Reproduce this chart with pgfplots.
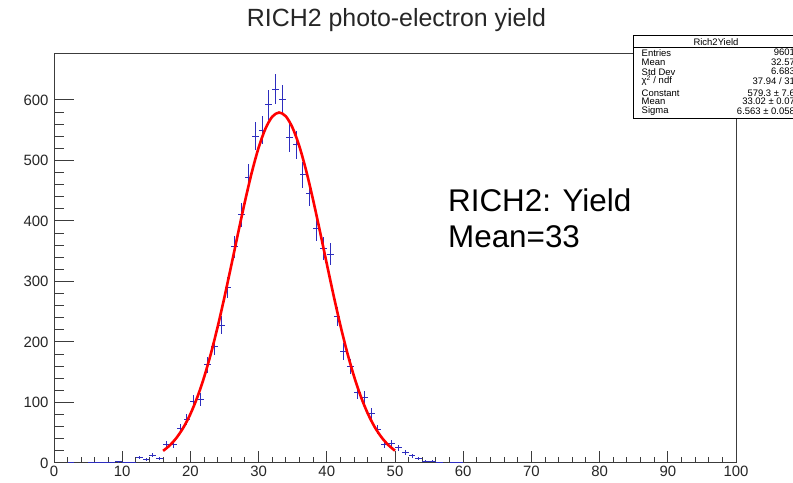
\documentclass[border=0pt]{standalone}
\usepackage{pgfplots}
\pgfplotsset{compat=1.18}
\usepackage{fontspec}
\setmainfont{Liberation Sans}

\definecolor{histblue}{RGB}{45,45,190}
\definecolor{framegray}{RGB}{60,60,60}
\newcommand{\statfont}{\fontsize{9.5}{9.5}\selectfont}

\pgfplotsset{
  rootframe/.style={
    at={(54bp,20bp)}, anchor=south west,
    scale only axis, width=682bp, height=409bp,
    xmin=0, xmax=100, ymin=0, ymax=676,
    tick pos=left, tick align=inside,
    axis line style={framegray, line width=1bp},
    tick style={framegray, line width=1bp},
    tick label style={font=\fontsize{15}{15}\selectfont, text=black!85},
    /pgf/number format/assume math mode=true,
    clip=false,
  }
}

\begin{document}
\begin{tikzpicture}[x=1bp,y=1bp]
\path[use as bounding box] (0,0) rectangle (793,483);

% y axis ticks (longer ticks than on x)
\begin{axis}[rootframe,
  xtick=\empty, ytick={0,100,...,600}, minor y tick num=4,
  major tick length=20bp, minor tick length=10bp,
  yticklabel style={xshift=-2bp},
]
\end{axis}

% x axis ticks and the data
\begin{axis}[rootframe,
  ytick=\empty, xtick={0,10,...,100}, minor x tick num=4,
  major tick length=12bp, minor tick length=6bp,
]
% histogram: bin centre, entries, sqrt(N) error
\addplot[draw=none, mark=none,
  error bars/.cd, y dir=both, y explicit, x dir=both, x fixed=0.5,
  error mark=none, error bar style={histblue, line width=1bp}]
  table[x=x, y=y, y error=ey] {
x     y     ey
2.5   1     1
5.5   1     1
6.5   1     1
7.5   1     1
8.5   1     1
9.5   2     1.41
10.5  1     1
11.5  1     1
12.5  9     3
13.5  6     2.45
14.5  13    3.61
15.5  7     2.65
16.5  31    5.57
17.5  31    5.57
18.5  57    7.55
19.5  72    8.49
20.5  102   10.10
21.5  105   10.25
22.5  162   12.73
23.5  192   13.86
24.5  228   15.10
25.5  290   17.03
26.5  357   18.89
27.5  410   20.25
28.5  472   21.73
29.5  540   23.24
30.5  550   23.45
31.5  592   24.33
32.5  618   24.86
33.5  601   24.52
34.5  538   23.19
35.5  526   22.93
36.5  476   21.82
37.5  446   21.12
38.5  387   19.67
39.5  354   18.81
40.5  345   18.57
41.5  242   15.56
42.5  184   13.56
43.5  159   12.61
44.5  116   10.77
45.5  108   10.39
46.5  82    9.06
47.5  56    7.48
48.5  31    5.57
49.5  32    5.66
50.5  25    5
51.5  18    4.24
52.5  12    3.46
53.5  7     2.65
54.5  3     1.73
55.5  3     1.73
56.5  1     1
58.5  1     1
59.5  1     1
};
% Gaussian fit: Constant 579.3, Mean 33.02, Sigma 6.563
\addplot[red, line width=2.6bp, smooth, mark=none] coordinates {
(16,20.07) (17,29.44) (18,42.23) (19,59.15) (20,80.97) (21,108.27)
(22,141.48) (23,180.61) (24,225.29) (25,274.54) (26,326.92) (27,380.36)
(28,432.37) (29,480.21) (30,521.09) (31,552.50) (32,572.35) (33,579.30)
(34,572.88) (35,553.53) (36,522.56) (37,482.00) (38,434.38) (39,382.50)
(40,329.07) (41,276.61) (42,227.18) (43,182.29) (44,142.91) (45,109.48)
(46,81.95) (47,59.93) (48,42.82) (49,29.89) (50,20.39)
};
\end{axis}

% title
\node[anchor=base, inner sep=0, font=\fontsize{25}{25}\selectfont, text=black!85]
  at (396.5,456) {RICH2 photo-electron yield};

% annotation
\node[anchor=base west, inner sep=0, font=\fontsize{31.5}{31.5}\selectfont]
  at (448,271) {RICH2: Yield};
\node[anchor=base west, inner sep=0, font=\fontsize{31.5}{31.5}\selectfont]
  at (448,235) {Mean=33};

% statistics box
\fill[white] (633,447.5) rectangle (805,365);
\draw[black, line width=0.8bp] (805,447.5) -- (633,447.5) -- (633,365) -- (805,365);
\draw[black, line width=0.6bp] (633,436) -- (805,436);
\node[inner sep=0, font=\statfont] at (716,441) {Rich2Yield};
\foreach \yy/\lab/\val in {
  430.3/Entries/9601,
  420.7/Mean/32.57,
  411.3/Std Dev/6.683,
  389.7/Constant/579.3 ± 7.6,
  381.3/Mean/33.02 ± 0.07,
  372/Sigma/6.563 ± 0.058}{
  \node[anchor=west, inner sep=0, font=\statfont] at (641.5,\yy) {\lab};
  \node[anchor=east, inner sep=0, font=\statfont] at (795,\yy) {\val};
}
\node[anchor=west, inner sep=0, font=\statfont] at (641.5,402.3) {χ\textsuperscript{2} / ndf};
\node[anchor=east, inner sep=0, font=\statfont] at (795,402.3) {37.94 / 31};
\end{tikzpicture}
\end{document}
